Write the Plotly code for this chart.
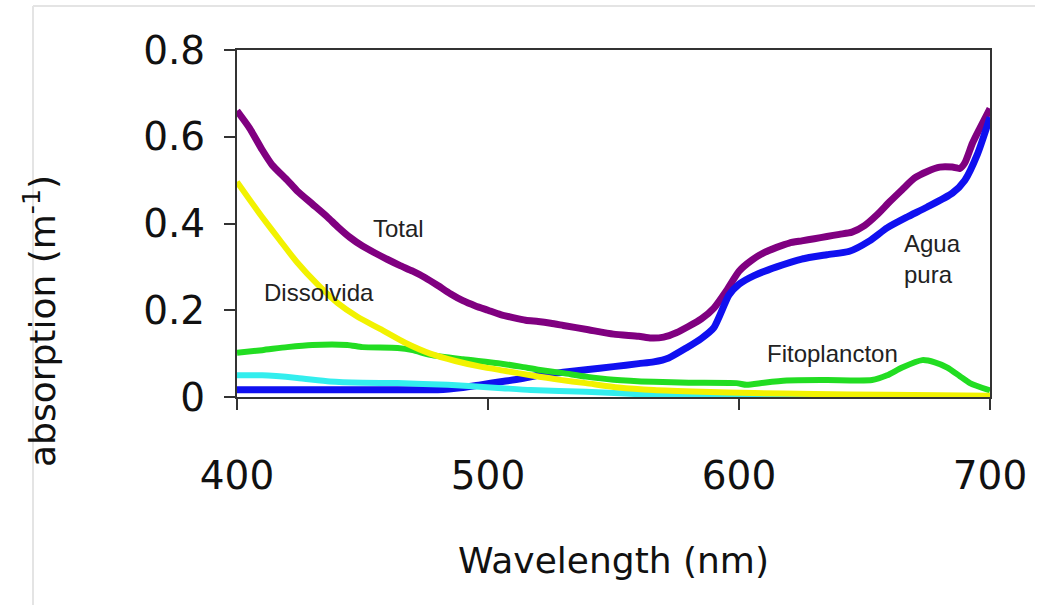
import plotly.graph_objects as go

# ---- data ----
total_wl = [400,405,410,414,420,424,430,436,440,445,450,455,460,465,470,475,480,485,490,495,500,505,510,515,520,525,530,540,550,560,565,570,575,580,585,590,595,600,605,610,615,620,625,630,635,640,645,650,655,660,665,670,675,680,685,688,690,693,696,700]
total_abs = [0.66,0.62,0.57,0.535,0.5,0.475,0.445,0.415,0.393,0.368,0.348,0.332,0.317,0.303,0.29,0.275,0.257,0.238,0.222,0.21,0.2,0.19,0.183,0.177,0.174,0.17,0.165,0.155,0.145,0.14,0.136,0.138,0.148,0.163,0.18,0.205,0.245,0.29,0.315,0.333,0.345,0.355,0.36,0.365,0.37,0.375,0.38,0.395,0.42,0.45,0.478,0.505,0.52,0.53,0.53,0.527,0.54,0.585,0.62,0.665]

agua_wl = [400,420,440,460,480,490,497,505,513,520,530,539,550,560,566,572,579,585,590,596,600,606,615,625,635,644,652,659,667,675,685,690,695,700]
agua_abs = [0.017,0.017,0.017,0.017,0.017,0.022,0.028,0.035,0.042,0.05,0.057,0.063,0.07,0.077,0.081,0.09,0.113,0.135,0.16,0.235,0.26,0.28,0.3,0.318,0.328,0.336,0.36,0.39,0.415,0.438,0.47,0.5,0.56,0.645]

fito_wl = [400,410,420,430,444,450,464,470,477,490,504,513,520,530,539,550,566,580,599,603,610,619,635,653,659,665,673,678,683,688,692,700]
fito_abs = [0.102,0.108,0.115,0.12,0.12,0.115,0.113,0.108,0.097,0.087,0.078,0.07,0.063,0.055,0.047,0.04,0.035,0.033,0.032,0.028,0.033,0.038,0.039,0.039,0.05,0.068,0.085,0.08,0.068,0.048,0.032,0.015]

diss_wl = [400,405,410,417,424,432,440,448,457,467,477,487,497,507,517,528,539,552,566,585,606,630,659,680,700]
diss_abs = [0.496,0.455,0.415,0.362,0.31,0.26,0.217,0.185,0.157,0.125,0.1,0.083,0.07,0.06,0.05,0.04,0.032,0.022,0.016,0.012,0.009,0.007,0.005,0.004,0.003]

cyan_wl = [400,410,424,437,450,464,484,504,517,539,566,590,620,667]
cyan_abs = [0.05,0.05,0.044,0.036,0.033,0.032,0.028,0.021,0.016,0.012,0.005,0.002,0.001,0.0]

x_ticks = [400, 500, 600, 700]
y_ticks = [0, 0.2, 0.4, 0.6, 0.8]
y_tick_text = ["0", "0.2", "0.4", "0.6", "0.8"]

fig = go.Figure()
series = [
    (total_wl, total_abs, "#800080", 7, "Total"),
    (agua_wl, agua_abs, "#1010f0", 7, "Agua pura"),
    (cyan_wl, cyan_abs, "#33eeee", 6, "cyan"),
    (fito_wl, fito_abs, "#22dd22", 6, "Fitoplancton"),
    (diss_wl, diss_abs, "#f2f200", 6, "Dissolvida"),
]
for xs, ys, col, w, name in series:
    fig.add_trace(go.Scatter(x=xs, y=ys, mode="lines", name=name,
                             line=dict(color=col, width=w, shape="spline", smoothing=0.6),
                             showlegend=False, hoverinfo="skip"))

L, R, T, B = 237, 990, 50, 397
W, H = 1051, 605
axis_col = "#333333"

fig.update_layout(
    width=W, height=H,
    margin=dict(l=L, r=W - R, t=T, b=H - B, pad=0),
    paper_bgcolor="white", plot_bgcolor="white",
    font=dict(family="DejaVu Sans", color="#111111"),
    xaxis=dict(range=[400, 700], tickvals=x_ticks, ticktext=[str(v) for v in x_ticks],
               showgrid=False, zeroline=False, showline=True, linecolor=axis_col, linewidth=2,
               mirror=True, ticks="outside", ticklen=11, tickwidth=2, tickcolor=axis_col,
               tickfont=dict(size=39, family="DejaVu Sans", color="#111111"),
               ticklabelstandoff=32),
    yaxis=dict(range=[0, 0.8], tickvals=y_ticks, ticktext=y_tick_text,
               showgrid=False, zeroline=False, showline=True, linecolor=axis_col, linewidth=2,
               mirror=True, ticks="outside", ticklen=11, tickwidth=2, tickcolor=axis_col,
               tickfont=dict(size=39, family="DejaVu Sans", color="#111111"),
               ticklabelstandoff=11),
)

def px_x(p):
    return (p - L) / (R - L)

def px_y(p):
    return (B - p) / (B - T)

# axis titles
fig.add_annotation(text="Wavelength (nm)", xref="paper", yref="paper",
                   x=px_x(613), y=px_y(560), showarrow=False,
                   font=dict(size=36, family="DejaVu Sans", color="#111111"),
                   xanchor="center", yanchor="middle")
fig.add_annotation(text="absorption (m<sup>-1</sup>)", xref="paper", yref="paper",
                   x=px_x(40), y=px_y(321), showarrow=False, textangle=-90,
                   font=dict(size=36, family="DejaVu Sans", color="#111111"),
                   xanchor="center", yanchor="middle")

# series labels
lab_font = dict(size=24, family="Liberation Sans", color="#222222")
fig.add_annotation(text="Total", xref="paper", yref="paper", x=px_x(398), y=px_y(229),
                   showarrow=False, font=lab_font, xanchor="center", yanchor="middle")
fig.add_annotation(text="Dissolvida", xref="paper", yref="paper", x=px_x(319), y=px_y(292),
                   showarrow=False, font=lab_font, xanchor="center", yanchor="middle")
fig.add_annotation(text="Fitoplancton", xref="paper", yref="paper", x=px_x(832), y=px_y(353),
                   showarrow=False, font=lab_font, xanchor="center", yanchor="middle")
fig.add_annotation(text="Agua<br>pura", xref="paper", yref="paper", x=px_x(902), y=px_y(259),
                   showarrow=False, font=lab_font, xanchor="left", yanchor="middle", align="left")

# faint image frame
fig.add_shape(type="line", xref="paper", yref="paper", x0=px_x(33), x1=px_x(33),
              y0=px_y(6), y1=px_y(605), line=dict(color="#e4e4e4", width=2))
fig.add_shape(type="line", xref="paper", yref="paper", x0=px_x(33), x1=px_x(1035),
              y0=px_y(6), y1=px_y(6), line=dict(color="#e4e4e4", width=2))

fig.write_html("out.html")
